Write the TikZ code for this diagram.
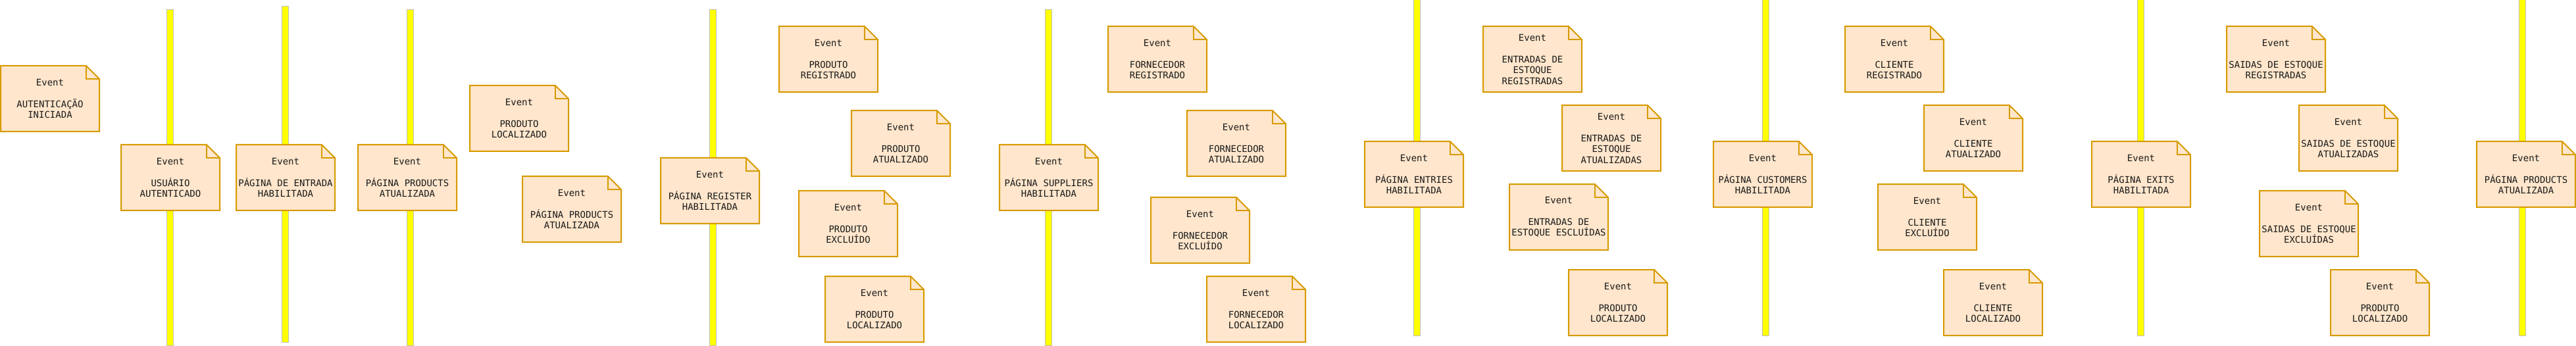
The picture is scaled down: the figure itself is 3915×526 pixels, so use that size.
\documentclass[tikz,border=0pt]{standalone}
\usepackage{fontspec}
\setmonofont{DejaVu Sans Mono}
\pgfdeclarelayer{barlayer}
\pgfdeclarelayer{notelayer}
\pgfsetlayers{barlayer,notelayer,main}
\definecolor{notefill}{HTML}{FFE6CC}
\definecolor{notedraw}{HTML}{D79B00}
\definecolor{barfill}{HTML}{FFFF00}
\definecolor{bardraw}{HTML}{BEBEBE}
\definecolor{txt}{HTML}{1A1A1A}
\begin{document}
\begin{tikzpicture}[x=1pt,y=-1pt,
  evt/.style={anchor=north west, inner sep=0pt, outer sep=0pt, minimum width=150pt, minimum height=100pt, align=center, text=txt, font=\ttfamily\fontsize{14}{16.5}\selectfont},
  barbox/.style={anchor=north, inner sep=0pt, outer sep=0pt, minimum width=10pt, fill=barfill, draw=bardraw, line width=1pt},
  notebg/.style={fill=notefill},
  noteline/.style={draw=notedraw, line width=2pt, line join=miter}]
\useasboundingbox (0,0) rectangle (3915,526);

% bars
\begin{pgfonlayer}{barlayer}
\node[barbox, minimum height=510pt] (b1) at (258.5,15) {};
\node[barbox, minimum height=510pt] (b2) at (433.5,10) {};
\node[barbox, minimum height=510pt] (b3) at (623,15) {};
\node[barbox, minimum height=510pt] (b4) at (1083.5,15) {};
\node[barbox, minimum height=510pt] (b5) at (1593.5,15) {};
\node[barbox, minimum height=510pt] (b6) at (2153.5,0) {};
\node[barbox, minimum height=510pt] (b7) at (2683.5,0) {};
\node[barbox, minimum height=510pt] (b8) at (3253.5,0) {};
\node[barbox, minimum height=510pt] (b9) at (3833.5,0) {};
\end{pgfonlayer}

% events
\node[evt] (autent) at (1,100) {Event\\[16.5pt]AUTENTICAÇÃO\\INICIADA};
\node[evt] (usuario) at (184,220) {Event\\[16.5pt]USUÁRIO\\AUTENTICADO};
\node[evt] (entrada) at (359,220) {Event\\[16.5pt]PÁGINA DE ENTRADA\\HABILITADA};
\node[evt] (products1) at (544,220) {Event\\[16.5pt]PÁGINA PRODUCTS\\ATUALIZADA};
\node[evt] (prodloc1) at (714,130) {Event\\[16.5pt]PRODUTO\\LOCALIZADO};
\node[evt] (products2) at (794,268) {Event\\[16.5pt]PÁGINA PRODUCTS\\ATUALIZADA};
\node[evt] (register) at (1004,240) {Event\\[16.5pt]PÁGINA REGISTER\\HABILITADA};
\node[evt] (prodreg) at (1184,40) {Event\\[16.5pt]PRODUTO\\REGISTRADO};
\node[evt] (prodatu) at (1294,168) {Event\\[16.5pt]PRODUTO\\ATUALIZADO};
\node[evt] (prodexc) at (1214,290) {Event\\[16.5pt]PRODUTO\\EXCLUÍDO};
\node[evt] (prodloc2) at (1254,420) {Event\\[16.5pt]PRODUTO\\LOCALIZADO};
\node[evt] (suppliers) at (1519,220) {Event\\[16.5pt]PÁGINA SUPPLIERS\\HABILITADA};
\node[evt] (fornreg) at (1684,40) {Event\\[16.5pt]FORNECEDOR\\REGISTRADO};
\node[evt] (fornatu) at (1804,168) {Event\\[16.5pt]FORNECEDOR\\ATUALIZADO};
\node[evt] (fornexc) at (1749,300) {Event\\[16.5pt]FORNECEDOR\\EXCLUÍDO};
\node[evt] (fornloc) at (1834,420) {Event\\[16.5pt]FORNECEDOR\\LOCALIZADO};
\node[evt] (entries) at (2074,215) {Event\\[16.5pt]PÁGINA ENTRIES\\HABILITADA};
\node[evt] (entreg) at (2254,40) {Event\\[16.5pt]ENTRADAS DE\\ESTOQUE\\REGISTRADAS};
\node[evt] (entatu) at (2374,160) {Event\\[16.5pt]ENTRADAS DE\\ESTOQUE\\ATUALIZADAS};
\node[evt] (entexc) at (2294,280) {Event\\[16.5pt]ENTRADAS DE\\ESTOQUE ESCLUÍDAS};
\node[evt] (prodloc3) at (2384,410) {Event\\[16.5pt]PRODUTO\\LOCALIZADO};
\node[evt] (customers) at (2604,215) {Event\\[16.5pt]PÁGINA CUSTOMERS\\HABILITADA};
\node[evt] (clireg) at (2804,40) {Event\\[16.5pt]CLIENTE\\REGISTRADO};
\node[evt] (cliatu) at (2924,160) {Event\\[16.5pt]CLIENTE\\ATUALIZADO};
\node[evt] (cliexc) at (2854,280) {Event\\[16.5pt]CLIENTE\\EXCLUÍDO};
\node[evt] (cliloc) at (2954,410) {Event\\[16.5pt]CLIENTE\\LOCALIZADO};
\node[evt] (exits) at (3179,215) {Event\\[16.5pt]PÁGINA EXITS\\HABILITADA};
\node[evt] (saireg) at (3384,40) {Event\\[16.5pt]SAIDAS DE ESTOQUE\\REGISTRADAS};
\node[evt] (saiatu) at (3494,160) {Event\\[16.5pt]SAIDAS DE ESTOQUE\\ATUALIZADAS};
\node[evt] (saiexc) at (3434,290) {Event\\[16.5pt]SAIDAS DE ESTOQUE\\EXCLUÍDAS};
\node[evt] (prodloc4) at (3542,410) {Event\\[16.5pt]PRODUTO\\LOCALIZADO};
\node[evt] (products3) at (3764,215) {Event\\[16.5pt]PÁGINA PRODUCTS\\ATUALIZADA};

% note outlines
\begin{pgfonlayer}{notelayer}
\foreach \n in {autent,usuario,entrada,products1,prodloc1,products2,register,prodreg,prodatu,prodexc,prodloc2,suppliers,fornreg,fornatu,fornexc,fornloc,entries,entreg,entatu,entexc,prodloc3,customers,clireg,cliatu,cliexc,cliloc,exits,saireg,saiatu,saiexc,prodloc4,products3}{
  \path[notebg, noteline] (\n.north west) -- ([xshift=-20pt]\n.north east) -- ([yshift=-20pt]\n.north east) -- (\n.south east) -- (\n.south west) -- cycle;
  \draw[noteline] ([xshift=-20pt]\n.north east) -- ([xshift=-20pt,yshift=-20pt]\n.north east) -- ([yshift=-20pt]\n.north east);
}
\end{pgfonlayer}
\end{tikzpicture}
\end{document}
